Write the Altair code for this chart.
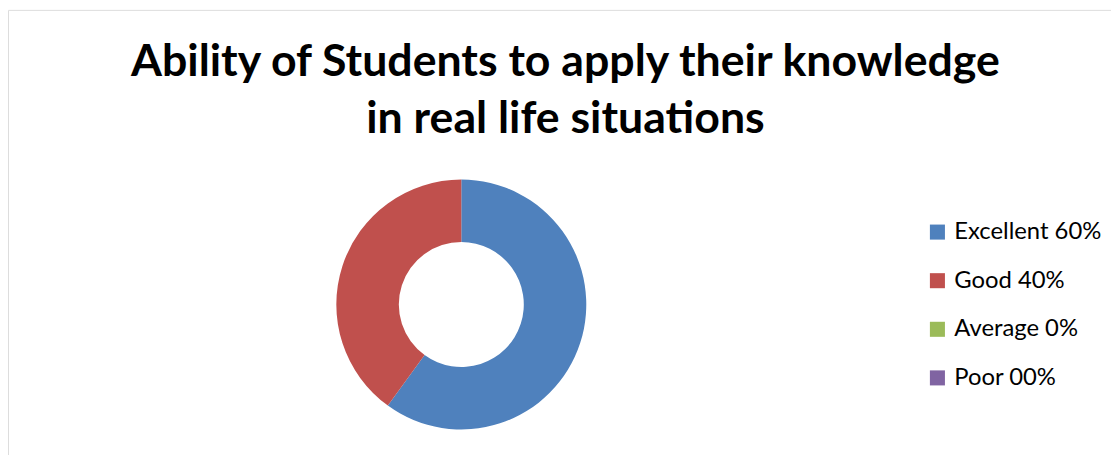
import altair as alt
import pandas as pd

categories = ["Excellent", "Good", "Average", "Poor"]
values = [60, 40, 0, 0]
legend_labels = ["Excellent 60%", "Good 40%", "Average 0%", "Poor 00%"]
colors = ["#4F81BD", "#C0504D", "#9BBB59", "#8064A2"]
title_lines = ["Ability of Students to apply their knowledge", "in real life situations"]

df = pd.DataFrame({"label": legend_labels, "value": values, "order": list(range(len(values)))})

color_scale = alt.Scale(domain=legend_labels, range=colors)

donut = alt.Chart(df).mark_arc(outerRadius=126, innerRadius=63).encode(
    theta=alt.Theta("value:Q", stack=True),
    color=alt.Color(
        "label:N",
        scale=color_scale,
        sort=legend_labels,
        legend=alt.Legend(
            title=None,
            orient="none",
            legendX=925,
            legendY=212,
            symbolType="square",
            symbolSize=230,
            symbolStrokeWidth=0,
            labelFontSize=24,
            labelFont="Lato",
            labelColor="#000000",
            rowPadding=25,
            labelOffset=5,
            padding=0,
        ),
    ),
    order=alt.Order("order:Q"),
    x=alt.value(457),
    y=alt.value(297),
)

tdf = pd.DataFrame({"text": title_lines, "line": [0, 1]})
title = alt.Chart(tdf).mark_text(
    font="Lato", fontWeight="bold", fontSize=45, baseline="alphabetic", align="center", color="#000000"
).encode(
    text="text:N",
    x=alt.value(562),
    y=alt.Y("line:Q", scale=alt.Scale(domain=[0, 1], range=[67, 124]), axis=None),
)

chart = alt.layer(donut, title).properties(
    width=1112, height=470, padding=0, autosize=alt.AutoSizeParams(type="none")
).configure_view(stroke="#888888", strokeWidth=3).configure(background="white")

chart.save("out.html", embed_options={"renderer": "svg", "actions": False})
